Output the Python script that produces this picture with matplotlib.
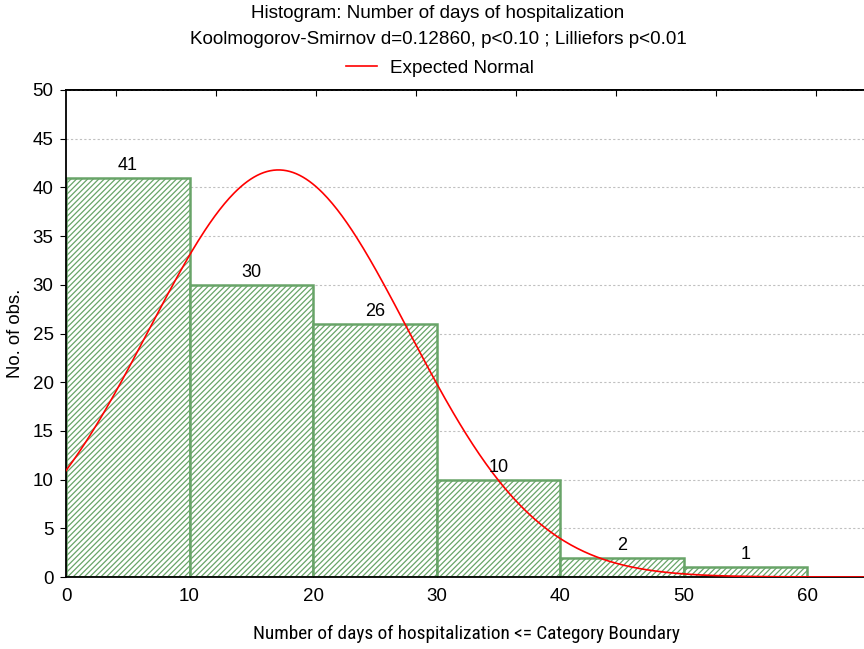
import numpy as np
import matplotlib
matplotlib.use("Agg")
import matplotlib.pyplot as plt

plt.rcParams['font.family'] = ['Liberation Sans', 'DejaVu Sans']
plt.rcParams['hatch.color'] = '#a3cfa3'
plt.rcParams['hatch.linewidth'] = 0.9

bin_edges = [0, 10, 20, 30, 40, 50, 60]
counts = [41, 30, 26, 10, 2, 1]
normal_mean = 17.2
normal_sd = 10.5
title1 = "Histogram: Number of days of hospitalization"
title2 = "Koolmogorov-Smirnov d=0.12860, p<0.10 ; Lilliefors p<0.01"
legend_label = "Expected Normal"
xlabel = "Number of days of hospitalization <= Category Boundary"
ylabel = "No. of obs."
xticks = [0, 10, 20, 30, 40, 50, 60]
yticks = [0, 5, 10, 15, 20, 25, 30, 35, 40, 45, 50]

fig = plt.figure(figsize=(8.64, 6.49), dpi=100)
ax = fig.add_axes([66/864, 72/649, 1 - 66/864, (577-90)/649])

lefts = bin_edges[:-1]
widths = np.diff(bin_edges)
ax.bar(lefts, counts, width=widths, align='edge', facecolor='white',
       edgecolor='#68a468', linewidth=1.8, hatch='//////', zorder=2)

n_total = sum(counts)
bw = widths[0]
xs = np.linspace(0, 66, 500)
ys = n_total * bw * np.exp(-0.5 * ((xs - normal_mean) / normal_sd) ** 2) / (normal_sd * np.sqrt(2 * np.pi))
line, = ax.plot(xs, ys, color='#ff0000', linewidth=1.2, zorder=3)

for l, w, c in zip(lefts, widths, counts):
    ax.text(l + w / 2, c + 0.4, str(c), ha='center', va='bottom', fontsize=13, zorder=4)

ax.set_xlim(0, 64.6)
ax.set_ylim(0, 50)
ax.set_xticks(xticks)
ax.set_yticks(yticks)
ax.tick_params(axis='x', direction='in', length=4, labelsize=13.5, pad=8)
ax.tick_params(axis='y', direction='out', length=4, labelsize=13.5, pad=5)
ax.yaxis.grid(True, linestyle=(0, (2, 2)), color='#c0c0c0', linewidth=0.8, zorder=0)
ax.set_axisbelow(True)
ax.spines['right'].set_visible(False)
for s in ['left', 'bottom', 'top']:
    ax.spines[s].set_linewidth(1.3)

# top axis ticks
top = ax.secondary_xaxis('top')
top.set_xticks([(116 - 66) / 12.35 + 8.1 * k for k in range(8)])
top.set_xticklabels([])
top.tick_params(direction='in', length=4)
top.spines['top'].set_linewidth(1.3)

ax.set_ylabel(ylabel, fontsize=13.3, labelpad=6)
fig.text(466/864, 1 - 634/649, xlabel, ha='center', va='center', fontsize=13.9,
         fontstretch='condensed',
         family=['Liberation Sans Narrow', 'Roboto Condensed', 'DejaVu Sans Condensed', 'Liberation Sans'])

fig.text(438/864, 1 - 14/649, title1, ha='center', va='center', fontsize=13.6)
fig.text(438/864, 1 - 40/649, title2, ha='center', va='center', fontsize=13.6)
leg = fig.legend([line], [legend_label], loc='center', bbox_to_anchor=(440/864, 1 - 68/649),
                 frameon=False, fontsize=13.6, handlelength=1.6, handletextpad=0.7)

fig.savefig("out.png", dpi=100)
